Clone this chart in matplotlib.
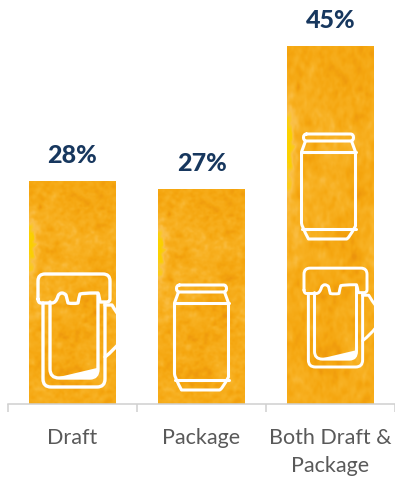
import numpy as np
import matplotlib
matplotlib.use('Agg')
import matplotlib.pyplot as plt
from matplotlib.patches import PathPatch, Polygon
from matplotlib.path import Path
from matplotlib.transforms import Affine2D
from matplotlib.colors import LinearSegmentedColormap

categories = ['Draft', 'Package', 'Both Draft &\nPackage']
values = [28, 27, 45]

W, H = 395, 479
BASE_Y = 404  # pixel row of the axis line
PX_PER_UNIT = 7.96
PX_PER_CAT = 129

plt.rcParams['font.family'] = ['Lato', 'DejaVu Sans']

fig = plt.figure(figsize=(W / 100, H / 100), dpi=100)
ax = fig.add_axes([8 / W, 1 - BASE_Y / H, 387 / W, BASE_Y / H])

beer = LinearSegmentedColormap.from_list('beer', ['#EC940C', '#F5A60F', '#F8B224', '#FAC04A', '#FBD000'])


def smooth(a, sigma):
    fy = np.fft.fftfreq(a.shape[0])[:, None]
    fx = np.fft.fftfreq(a.shape[1])[None, :]
    g = np.exp(-2 * (np.pi * sigma) ** 2 * (fx ** 2 + fy ** 2))
    s = np.real(np.fft.ifft2(np.fft.fft2(a) * g))
    return s / s.std()


def beer_texture(rows=240, cols=87):
    rng = np.random.default_rng(7)
    grain = smooth(rng.normal(size=(rows, cols)), 2.0)
    fine = smooth(rng.normal(size=(rows, cols)), 1.0)
    blotch = smooth(rng.normal(size=(rows, cols)), 12)
    tex = 0.36 + 0.075 * grain + 0.03 * fine + 0.06 * blotch
    # yellow glow along the left edge
    yy, xx = np.mgrid[0:rows, 0:cols]
    glow = np.exp(-((xx / 8.0) ** 2) - ((yy - rows * 0.3) / 30.0) ** 2)
    tex = tex + 0.75 * glow
    return np.clip(tex, 0, 1)


texture = beer_texture()
bars = ax.bar(range(3), values, width=87 / PX_PER_CAT, color='#F5A60F', linewidth=0)
for b in bars:
    img = ax.imshow(texture, cmap=beer, vmin=0, vmax=1, aspect='auto', interpolation='bilinear',
                    extent=(b.get_x(), b.get_x() + b.get_width(), 0, b.get_height()), zorder=1.5)
    img.set_clip_path(b)

ax.set_xlim(-0.5, 2.5)
ax.set_ylim(0, BASE_Y / PX_PER_UNIT)


def icon_tf(cx, bottom, scale=1.0):
    # icon outlines are in pixels, y down, origin at the bottom centre of the icon
    return (Affine2D().scale(scale / PX_PER_CAT, -scale / PX_PER_UNIT)
            .translate(cx, bottom / PX_PER_UNIT) + ax.transData)


def stroke(verts, codes, tf, lw=2.2):
    ax.add_patch(PathPatch(Path(verts, codes), facecolor='none', edgecolor='white', lw=lw, transform=tf,
                           zorder=3, capstyle='round', joinstyle='round'))


M, L, C = Path.MOVETO, Path.LINETO, Path.CURVE3


def draw_mug(cx, bottom, scale=1.0):
    tf = icon_tf(cx, bottom, scale)
    lw = 2.2 * scale + 0.2
    # foam cap, the lower edge has two drips
    foam = [(-36, -88), (-36, -106), (-36, -113), (-29, -113), (29, -113), (36, -113), (36, -106), (36, -88),
            (36, -85), (33, -85), (26, -85), (25, -92), (24, -94), (21, -94), (10, -94), (6, -93),
            (5, -90), (4, -84), (-1, -83), (-6, -84), (-8, -92), (-10, -94), (-12, -94), (-15, -94),
            (-16, -91), (-18, -84), (-22, -84), (-33, -84), (-36, -84), (-36, -88)]
    codes = [M, L, C, C, L, C, C, L, C, C, L, C, C, L, C, C, C, C, C, C, L, C, C, C, C, C, C, L, C, C]
    stroke(foam, codes, tf, lw)
    # outer glass
    stroke([(-31, -84), (-31, -8), (-31, 0), (-23, 0), (23, 0), (31, 0), (31, -8), (31, -84)],
           [M, L, C, C, L, C, C, L], tf, lw)
    # inner glass
    stroke([(-24, -85), (-24, -18), (-24, -9), (-15, -9), (16, -9), (24, -9), (24, -18), (24, -92)],
           [M, L, C, C, L, C, C, L], tf, lw)
    # handle
    stroke([(31, -82), (38, -82), (42, -75), (46, -70), (46, -45), (40, -37), (31, -30)],
           [M, L, C, C, L, C, C], tf, lw)
    # beer level wedge
    ax.add_patch(Polygon([(-15, -10), (23, -19), (23, -10)], closed=True, facecolor='white',
                         edgecolor='none', transform=tf, zorder=3))


def draw_can(cx, bottom):
    tf = icon_tf(cx, bottom)
    lw = 2.2
    # lid
    stroke([(-22, -105), (22, -105), (25, -105), (25, -101.5), (25, -98), (22, -98), (-22, -98),
            (-25, -98), (-25, -101.5), (-25, -105), (-22, -105)],
           [M, L, C, C, C, C, L, C, C, C, C], tf, lw)
    # body
    stroke([(-23, -98), (-27, -87), (-27, -16), (-27, -13), (-20, 0), (-18, 0), (18, 0), (20, 0), (27, -13),
            (27, -16), (27, -87), (23, -98)],
           [M, L, L, C, C, L, L, C, C, C, L, L], tf, lw)
    stroke([(-27, -87), (27, -87)], [M, L], tf, lw)
    stroke([(-27, -10), (27, -10)], [M, L], tf, lw)


# Icons: mug in the first bar, can in the second, one of each in the third
draw_mug(0 + 1.5 / PX_PER_CAT, BASE_Y - 387)
draw_can(1, BASE_Y - 390)
draw_can(2 - 2 / PX_PER_CAT, BASE_Y - 239)
draw_mug(2 + 5 / PX_PER_CAT, BASE_Y - 367, 0.875)

for i, v in enumerate(values):
    ax.annotate(f'{v}%', (i, v), xytext=(0, 18.5), textcoords='offset points', ha='center', va='center',
                fontsize=18, fontweight='black', color='#17375E', annotation_clip=False)

for s in ['top', 'left', 'right']:
    ax.spines[s].set_visible(False)
ax.spines['bottom'].set_color('#D0D0D0')
ax.spines['bottom'].set_linewidth(1.1)
ax.set_yticks([])
ax.set_xticks(range(3))
ax.set_xticklabels(categories, fontsize=15.5, color='#595959', linespacing=1.5)
ax.tick_params(axis='x', which='major', length=0, pad=17)
ax.set_xticks([-0.5, 0.5, 1.5, 2.5], minor=True)
ax.tick_params(axis='x', which='minor', length=5.8, width=1.1, color='#D0D0D0')

fig.savefig('out.png', dpi=100)
